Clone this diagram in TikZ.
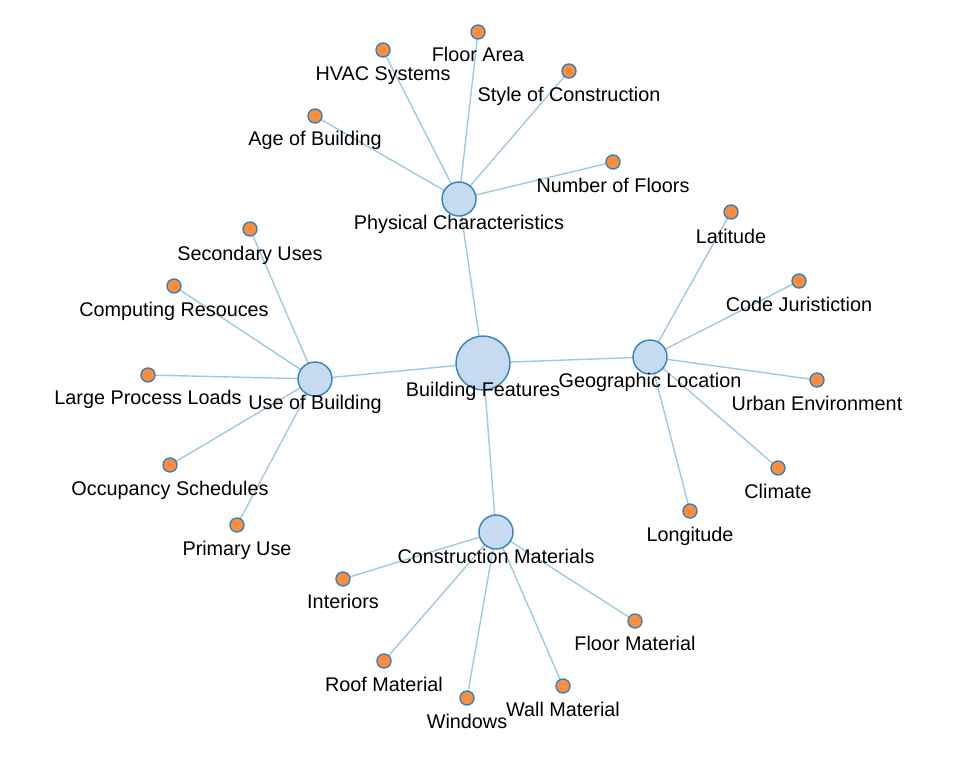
\documentclass[tikz,border=0pt]{standalone}
\usepackage{fontspec}
\setmainfont{Liberation Sans}
\definecolor{edgec}{HTML}{9ECAE1}
\definecolor{strokec}{HTML}{3182BD}
\definecolor{hubfill}{HTML}{C6DBEF}
\definecolor{leaffill}{HTML}{FD8D3C}
\tikzset{
  hub/.style={circle,draw=strokec,fill=hubfill,line width=1.4pt,inner sep=0pt,minimum size=34pt},
  rootn/.style={hub,minimum size=54pt},
  leafn/.style={circle,draw=strokec,fill=leaffill,line width=1.4pt,inner sep=0pt,minimum size=14pt},
  lbl/.style={anchor=base,inner sep=0pt,font=\fontsize{19.8}{22}\selectfont},
  edge/.style={draw=edgec,line width=1.4pt}
}
\newcommand\mkleaf[5]{\node[leafn] (#1) at (#2,#3) {}; \node[lbl] (#1l) at (#2,#3+#4) {#5};}
\begin{document}
\begin{tikzpicture}[x=1pt,y=-1pt]
\useasboundingbox (0,0) rectangle (953,764);
% coordinates
\coordinate (cR) at (483,363);
\coordinate (cP) at (459,199);
\coordinate (cU) at (315,379);
\coordinate (cG) at (650,357);
\coordinate (cC) at (496,532);
\foreach \n/\x/\y in {p1/478/32,p2/383/50,p3/569/71,p4/315/116,p5/613/162,
  u1/250/229,u2/174/286,u3/148/375,u4/170/465,u5/237/525,
  g1/731/212,g2/799/281,g3/817/380,g4/778/468,g5/690/511,
  c1/343/579,c2/635/621,c3/384/661,c4/563/686,c5/467/698}
  {\coordinate (k\n) at (\x,\y);}
% edges
\foreach \a/\b in {cR/cP,cR/cU,cR/cG,cR/cC,
  cP/kp1,cP/kp2,cP/kp3,cP/kp4,cP/kp5,
  cU/ku1,cU/ku2,cU/ku3,cU/ku4,cU/ku5,
  cG/kg1,cG/kg2,cG/kg3,cG/kg4,cG/kg5,
  cC/kc1,cC/kc2,cC/kc3,cC/kc4,cC/kc5}
  {\draw[edge] (\a) -- (\b);}
% leaves
\mkleaf{p1}{478}{32}{29}{Floor Area}
\mkleaf{p2}{383}{50}{30}{HVAC Systems}
\mkleaf{p3}{569}{71}{30}{Style of Construction}
\mkleaf{p4}{315}{116}{29}{Age of Building}
\mkleaf{p5}{613}{162}{30}{Number of Floors}
\mkleaf{u1}{250}{229}{31}{Secondary Uses}
\mkleaf{u2}{174}{286}{30}{Computing Resouces}
\mkleaf{u3}{148}{375}{29}{Large Process Loads}
\mkleaf{u4}{170}{465}{30}{Occupancy Schedules}
\mkleaf{u5}{237}{525}{30}{Primary Use}
\mkleaf{g1}{731}{212}{31}{Latitude}
\mkleaf{g2}{799}{281}{30}{Code Juristiction}
\mkleaf{g3}{817}{380}{30}{Urban Environment}
\mkleaf{g4}{778}{468}{30}{Climate}
\mkleaf{g5}{690}{511}{30}{Longitude}
\mkleaf{c1}{343}{579}{29}{Interiors}
\mkleaf{c2}{635}{621}{29}{Floor Material}
\mkleaf{c3}{384}{661}{30}{Roof Material}
\mkleaf{c4}{563}{686}{30}{Wall Material}
\mkleaf{c5}{467}{698}{30}{Windows}
% hubs
\node[hub] (P) at (cP) {}; \node[lbl] (Pl) at (459,229) {Physical Characteristics};
\node[hub] (U) at (cU) {}; \node[lbl] (Ul) at (315,409) {Use of Building};
\node[hub] (G) at (cG) {}; \node[lbl] (Gl) at (650,387) {Geographic Location};
\node[hub] (C) at (cC) {}; \node[lbl] (Cl) at (496,563) {Construction Materials};
\node[rootn] (R) at (cR) {}; \node[lbl] (Rl) at (483,396) {Building Features};
\end{tikzpicture}
\end{document}
